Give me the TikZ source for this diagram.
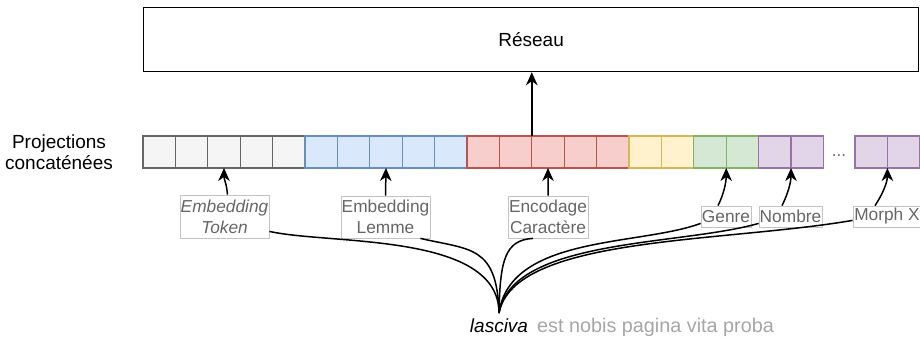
\documentclass[tikz,border=0pt]{standalone}
\usepackage{fontspec}
\setmainfont{Liberation Sans}
\usetikzlibrary{arrows.meta}
\definecolor{gF}{HTML}{F5F5F5}\definecolor{gS}{HTML}{666666}
\definecolor{bF}{HTML}{DAE8FC}\definecolor{bS}{HTML}{6C8EBF}
\definecolor{rF}{HTML}{F8CECC}\definecolor{rS}{HTML}{B85450}
\definecolor{yF}{HTML}{FFF2CC}\definecolor{yS}{HTML}{D6B656}
\definecolor{vF}{HTML}{D5E8D4}\definecolor{vS}{HTML}{82B366}
\definecolor{pF}{HTML}{E1D5E7}\definecolor{pS}{HTML}{9673A6}
\definecolor{labtext}{HTML}{666666}
\definecolor{labline}{HTML}{C4C4C4}
\definecolor{resttext}{HTML}{A6A6A6}
\begin{document}
\begin{tikzpicture}[x=1pt,y=-1pt,
  cell/.style={draw, line width=1.2pt, minimum width=32.4pt, minimum height=32pt, inner sep=0pt, outer sep=0pt, anchor=north west},
  big/.style={font=\fontsize{19}{20.5}\selectfont},
  lab/.style={draw=labline, line width=0.8pt, fill=white, text=labtext, inner sep=0pt, align=center, font=\fontsize{17.3}{21}\selectfont},
  wire/.style={line width=1.5pt},
  arr/.style={line width=1.5pt, -{Stealth[length=13pt,width=11.5pt,inset=4pt]}}]
\useasboundingbox (0,0) rectangle (920,337);

% network box
\node[draw, line width=1.2pt, minimum width=775pt, minimum height=64pt, anchor=north west, inner sep=0pt, big] (net) at (143,7) {Réseau};

% left title
\node[big, align=center] (proj) at (59,152) {Projections\\concaténées};

% cells
\foreach \i in {0,...,4} \node[cell, fill=gF, draw=gS] (c\i) at ({143+32.4*\i},136) {};
\foreach \i in {5,...,9} \node[cell, fill=bF, draw=bS] (c\i) at ({143+32.4*\i},136) {};
\foreach \i in {10,...,14} \node[cell, fill=rF, draw=rS] (c\i) at ({143+32.4*\i},136) {};
\foreach \i in {15,16} \node[cell, fill=yF, draw=yS] (c\i) at ({143+32.4*\i},136) {};
\foreach \i in {17,18} \node[cell, fill=vF, draw=vS] (c\i) at ({143+32.4*\i},136) {};
\foreach \i in {19,20} \node[cell, fill=pF, draw=pS] (c\i) at ({143+32.4*\i},136) {};
\node[cell, fill=pF, draw=pS] (d0) at (855,136) {};
\node[cell, fill=pF, draw=pS] (d1) at (887.4,136) {};
\node[font=\fontsize{17}{20}\selectfont, text=labtext, anchor=base] (dots) at (839,156) {...};

% arrow to network
\draw[arr] (c11.north east) -- (c11.north east |- net.south);

% labels
\node[lab, minimum width=89pt, minimum height=43pt, font=\fontsize{17.3}{21}\selectfont\itshape] (tok) at (224.5,216.5) {Embedding\\Token};
\node[lab, minimum width=89pt, minimum height=42pt] (lem) at (385.5,217) {Embedding\\Lemme};
\node[lab, minimum width=80pt, minimum height=42pt] (car) at (548,217) {Encodage\\Caractère};
\node[lab, minimum width=50pt, minimum height=21pt] (gen) at (726,216.5) {Genre};
\node[lab, minimum width=63pt, minimum height=21pt] (nom) at (790.5,216.5) {Nombre};
\node[lab, minimum width=68pt, minimum height=21pt] (mor) at (887,216.5) {Morph X};

% arrows from labels to cells
\draw[arr] ([xshift=3pt]tok.north) .. controls +(-1,-12) and +(0,12) .. (c2.south);
\draw[arr] (lem.north) -- (c7.south);
\draw[arr] (car.north) -- (c12.south);
\draw[arr] ([xshift=-8pt]gen.north) .. controls +(6,-12) and +(0,14) .. (c17.south east);
\draw[arr] ([xshift=-8.5pt]nom.north) .. controls +(6,-12) and +(0,14) .. (c19.south east);
\draw[arr] ([xshift=-12pt]mor.north) .. controls +(8,-12) and +(0,14) .. (d0.south east);

% sentence
\node[big, font=\fontsize{19}{22}\selectfont\itshape, anchor=base, inner sep=0pt] (word) at (499,332) {lasciva};
\node[font=\fontsize{19.8}{22}\selectfont, text=resttext, anchor=base west, inner sep=0pt] (rest) at (537,332) {est nobis pagina vita proba};
\coordinate (conv) at (499,313);

% curves
\draw[wire] ([yshift=7pt]tok.south east) .. controls (330,245) and (499,232) .. (conv);
\draw[wire] ([xshift=-10pt]lem.south east) .. controls (470,250) and (497,245) .. (conv);
\draw[wire] ([xshift=-15pt]car.south) .. controls (505,240) and (500,260) .. (conv);
\draw[wire] ([yshift=4pt]gen.south west) .. controls (640,246) and (510,235) .. (conv);
\draw[wire] ([yshift=4pt]nom.south west) .. controls (680,246) and (512,238) .. (conv);
\draw[wire] ([yshift=7pt]mor.south west) .. controls (720,243) and (514,236) .. (conv);
\end{tikzpicture}
\end{document}
